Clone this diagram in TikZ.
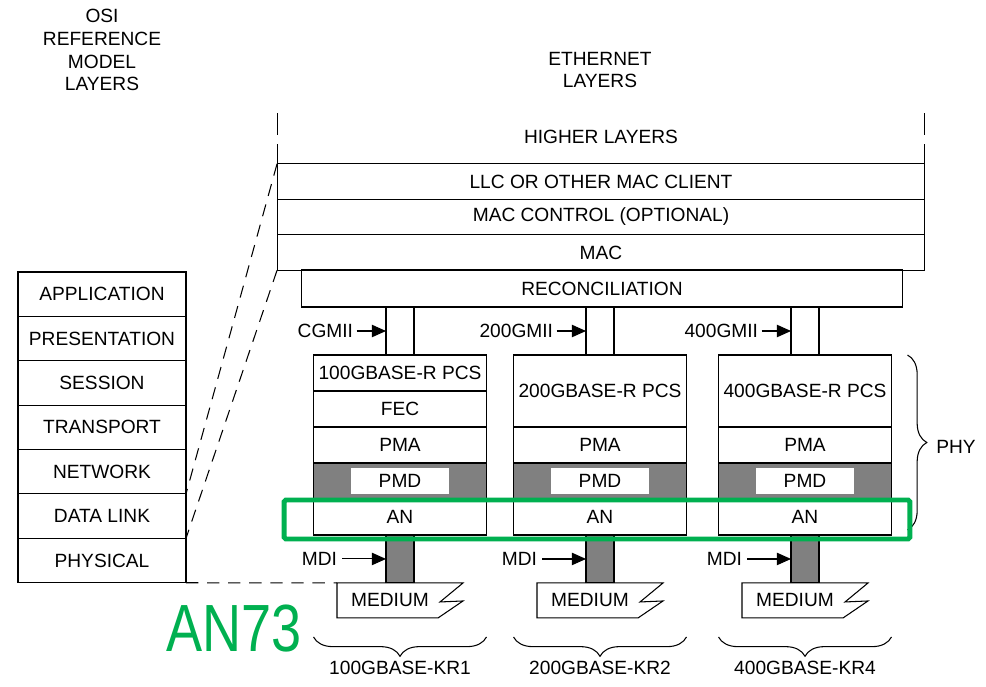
\documentclass[tikz,border=0pt]{standalone}
\usepackage{fontspec}
\setmainfont{Liberation Sans}
\usepackage{xcolor}
\usetikzlibrary{arrows.meta, positioning, decorations.pathreplacing, calc}
\definecolor{anGreen}{HTML}{00B050}
\definecolor{pmdGray}{HTML}{808080}

\begin{document}
\begin{tikzpicture}[x=0.02cm, y=-0.02cm, line width=0.6pt,
  font=\fontsize{10.9}{13}\selectfont,
  every node/.style={inner sep=0pt, outer sep=0pt},
  osi/.style={rectangle, draw, minimum width=3.36cm, minimum height=0.888cm},
  layer/.style={rectangle, draw, minimum width=12.96cm, minimum height=0.71cm},
  sublayer/.style={rectangle, draw, minimum width=3.46cm, minimum height=0.72cm},
  pmdrow/.style={sublayer, fill=pmdGray},
  pmdbox/.style={rectangle, fill=white, minimum width=1.96cm, minimum height=0.52cm},
  link/.style={rectangle, draw, minimum width=0.56cm, minimum height=0.96cm},
  bar/.style={link, fill=pmdGray},
  arrow/.style={-{Triangle[length=8pt, width=7pt]}},
  dashline/.style={dash pattern=on 7pt off 5pt},
  brace/.style={decorate, decoration={brace, amplitude=11pt}},
  anbox/.style={rectangle, draw=anGreen, line width=2.8pt, rounded corners=1pt, minimum width=12.52cm, minimum height=0.78cm}]
  \useasboundingbox (0,0) rectangle (986,686);
  % Titles
  \node[align=center] (osititle) at (102,50) {OSI\\REFERENCE\\MODEL\\LAYERS};
  \node[align=center] (ethtitle) at (600,70) {ETHERNET\\LAYERS};
  % OSI stack
  \node[osi] (app) at (102,294.2) {APPLICATION};
  \node[osi, below=0pt of app] (pres) {PRESENTATION};
  \node[osi, below=0pt of pres] (sess) {SESSION};
  \node[osi, below=0pt of sess] (trans) {TRANSPORT};
  \node[osi, below=0pt of trans] (net) {NETWORK};
  \node[osi, below=0pt of net] (datalink) {DATA LINK};
  \node[osi, below=0pt of datalink] (physical) {PHYSICAL};
  % Ethernet upper layers
  \node (higher) at (601,137) {HIGHER LAYERS};
  \node[layer] (llc) at (601,181.5) {LLC OR OTHER MAC CLIENT};
  \node[layer, below=0pt of llc] (macctrl) {MAC CONTROL (OPTIONAL)};
  \node[layer, below=0pt of macctrl] (mac) {MAC};
  \node[rectangle, draw, minimum width=12.04cm, minimum height=0.74cm] (recon) at (602,288.5) {RECONCILIATION};
  \draw (llc.north west) -- ++(0,-20) ++(0,-9) -- ++(0,-22);
  \draw (llc.north east) -- ++(0,-20) ++(0,-9) -- ++(0,-22);
  % Column 1
  \node[link] (lk1) at (400,331) {};
  \node[sublayer] (pcs1) at (400,373) {100GBASE-R PCS};
  \node[sublayer, below=0pt of pcs1] (fec1) {FEC};
  \node[sublayer, below=0pt of fec1] (pma1) {PMA};
  \node[pmdrow, below=0pt of pma1] (pmd1) {};
  \node[pmdbox] at (pmd1) {PMD};
  \node[sublayer, below=0pt of pmd1] (an1) {AN};
  \node[bar, below=0pt of an1] (bar1) {};
  % Column 2
  \node[link] (lk2) at (600,331) {};
  \node[sublayer, minimum height=1.44cm] (pcs2) at (600,391) {200GBASE-R PCS};
  \node[sublayer, below=0pt of pcs2] (pma2) {PMA};
  \node[pmdrow, below=0pt of pma2] (pmd2) {};
  \node[pmdbox] at (pmd2) {PMD};
  \node[sublayer, below=0pt of pmd2] (an2) {AN};
  \node[bar, below=0pt of an2] (bar2) {};
  % Column 3
  \node[link] (lk3) at (805,331) {};
  \node[sublayer, minimum height=1.44cm] (pcs3) at (805,391) {400GBASE-R PCS};
  \node[sublayer, below=0pt of pcs3] (pma3) {PMA};
  \node[pmdrow, below=0pt of pma3] (pmd3) {};
  \node[pmdbox] at (pmd3) {PMD};
  \node[sublayer, below=0pt of pmd3] (an3) {AN};
  \node[bar, below=0pt of an3] (bar3) {};
  % Interfaces
  \node[left=0.66cm of lk1.west] (cgmii) {CGMII};
  \node[left=0.66cm of lk2.west] (gmii200) {200GMII};
  \node[left=0.66cm of lk3.west] (gmii400) {400GMII};
  \draw[arrow] ([xshift=2pt]cgmii.east) -- (cgmii -| lk1.west);
  \draw[arrow] ([xshift=2pt]gmii200.east) -- (gmii200 -| lk2.west);
  \draw[arrow] ([xshift=2pt]gmii400.east) -- (gmii400 -| lk3.west);
  \node[left=0.98cm of bar1.west] (mdi1) {MDI};
  \node[left=0.98cm of bar2.west] (mdi2) {MDI};
  \node[left=0.98cm of bar3.west] (mdi3) {MDI};
  \draw[arrow] ([xshift=3pt]mdi1.east) -- (mdi1 -| bar1.west);
  \draw[arrow] ([xshift=3pt]mdi2.east) -- (mdi2 -| bar2.west);
  \draw[arrow] ([xshift=3pt]mdi3.east) -- (mdi3 -| bar3.west);
  % Medium
  \coordinate (med1) at ($(bar1.south)+(-63,0)$);
  \coordinate (med2) at ($(bar2.south)+(-63,0)$);
  \coordinate (med3) at ($(bar3.south)+(-63,0)$);
  \draw (med1) -- ++(126,0) -- ++(-23,19) -- ++(23,-1) -- ++(-25,17) -- ++(-101,0) -- cycle;
  \draw (med2) -- ++(126,0) -- ++(-23,19) -- ++(23,-1) -- ++(-25,17) -- ++(-101,0) -- cycle;
  \draw (med3) -- ++(126,0) -- ++(-23,19) -- ++(23,-1) -- ++(-25,17) -- ++(-101,0) -- cycle;
  \node (medium1) at ($(med1)+(53,17)$) {MEDIUM};
  \node (medium2) at ($(med2)+(53,17)$) {MEDIUM};
  \node (medium3) at ($(med3)+(53,17)$) {MEDIUM};
  % OSI mapping
  \draw[dashline] (llc.north west) -- (datalink.north east);
  \draw[dashline] (mac.south west) -- (datalink.south east);
  \draw[dashline] (physical.south east) -- (med1);
  % Braces
  \draw[brace] ($(an1.south east)+(0,102)$) -- ($(an1.south west)+(0,102)$);
  \draw[brace] ($(an2.south east)+(0,102)$) -- ($(an2.south west)+(0,102)$);
  \draw[brace] ($(an3.south east)+(0,102)$) -- ($(an3.south west)+(0,102)$);
  \node (kr1) at (400,668) {100GBASE-KR1};
  \node (kr2) at (600,668) {200GBASE-KR2};
  \node (kr4) at (805,668) {400GBASE-KR4};
  \draw[brace] ($(pcs3.north east)+(16,0)$) -- ($(an3.south east)+(16,-5)$);
  \node (phy) at (956,447) {PHY};
  % AN highlight
  \node[anbox] (anbox) at (597,519.5) {};
  \node[text=anGreen, font=\fontsize{38}{40}\selectfont, xscale=0.81] (an73) at (234,629) {AN73};
\end{tikzpicture}
\end{document}
